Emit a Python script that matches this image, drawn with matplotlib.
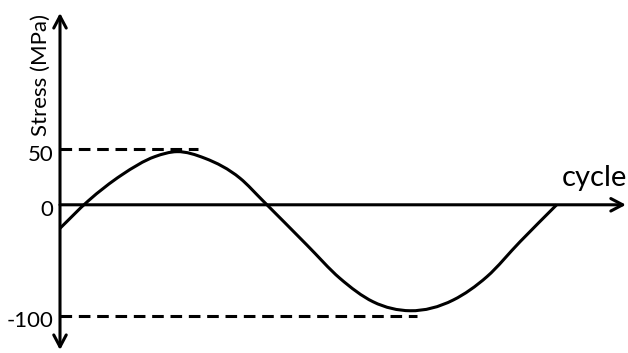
import numpy as np
import matplotlib
matplotlib.use("Agg")
import matplotlib.pyplot as plt
from matplotlib.path import Path
from matplotlib.patches import PathPatch
from matplotlib.transforms import ScaledTranslation

# ---- data ----
cycle = [0.000, 0.056, 0.123, 0.189, 0.233, 0.289, 0.359, 0.405, 0.492,
         0.558, 0.624, 0.698, 0.784, 0.851, 0.917, 0.990]
stress = [-21.2, 3.4, 26.9, 43.4, 47.9, 41.9, 23.9, 3.4, -36.2,
          -66.3, -87.4, -95.5, -85.8, -64.8, -33.3, 0.0]
ref_levels = [50, -100]          # dashed reference stress levels (MPa)
ref_ends = [0.275, 0.711]        # where each dashed line stops (cycle)
ytick_values = [50, 0, -100]
ytick_labels = ["50", "0", "-100"]
x_label = "cycle"
y_label = "Stress (MPa)"

FONT = ["Lato", "DejaVu Sans"]
plt.rcParams["font.family"] = FONT

fig = plt.figure(figsize=(6.28, 3.53), dpi=100)
ax = fig.add_axes([60 / 628, 0, 568 / 628, 1])
ax.set_xlim(0, 1.1322)
ax.set_ylim(-133.6, 184.6)
for s in ax.spines.values():
    s.set_visible(False)
ax.patch.set_alpha(0)

lw = 2.2


def smooth_path(xs, ys):
    """Smooth line through the points, drawn as cubic Bezier (Hermite) segments."""
    x = np.asarray(xs, float)
    y = np.asarray(ys, float)
    h = np.diff(x)
    d = np.diff(y) / h
    m = np.empty_like(y)
    m[0], m[-1] = d[0], d[-1]
    m[1:-1] = (d[1:] * h[:-1] + d[:-1] * h[1:]) / (h[:-1] + h[1:])
    verts = [(x[0], y[0])]
    codes = [Path.MOVETO]
    for i in range(len(x) - 1):
        verts += [(x[i] + h[i] / 3, y[i] + m[i] * h[i] / 3),
                  (x[i + 1] - h[i] / 3, y[i + 1] - m[i + 1] * h[i] / 3),
                  (x[i + 1], y[i + 1])]
        codes += [Path.CURVE4] * 3
    return Path(verts, codes)


# curve
ax.add_patch(PathPatch(smooth_path(cycle, stress), fill=False, edgecolor="black",
                       lw=lw, capstyle="butt", zorder=3))
# dashed reference lines
for lev, end in zip(ref_levels, ref_ends):
    ax.plot([0, end], [lev, lev], color="black", lw=lw,
            dashes=(3.8, 2.2), dash_capstyle="butt", zorder=2)

# axis arrows
xmax = 1.128
ax.annotate("", xy=(xmax, 0), xytext=(0, 0),
            arrowprops=dict(arrowstyle="->,head_length=0.85,head_width=0.45",
                            lw=lw, color="black", shrinkA=0, shrinkB=0,
                            mutation_scale=10),
            annotation_clip=False, zorder=4)
ax.annotate("", xy=(0, 172.9), xytext=(0, -130.9),
            arrowprops=dict(arrowstyle="<->,head_length=0.85,head_width=0.45",
                            lw=lw, color="black", shrinkA=0, shrinkB=0,
                            mutation_scale=10),
            annotation_clip=False, zorder=4)

# ticks
ax.set_xticks([])
ax.set_yticks(ytick_values)
ax.set_yticklabels(ytick_labels, fontsize=16)
ax.tick_params(axis="y", length=0, pad=5.0)
off = ScaledTranslation(0, -3.5 / 100, fig.dpi_scale_trans)
for lbl in ax.get_yticklabels():
    lbl.set_transform(lbl.get_transform() + off)

# labels
ax.set_ylabel(y_label, fontsize=16, ha="center", va="center")
ax.yaxis.set_label_coords(-19 / 568, (353 - 75) / 353)
ax.set_xlabel(x_label, fontsize=21, ha="left", va="baseline")
ax.xaxis.set_label_coords((562 - 60) / 568, (353 - 186) / 353)

fig.savefig("out.png", dpi=100, facecolor="white")
